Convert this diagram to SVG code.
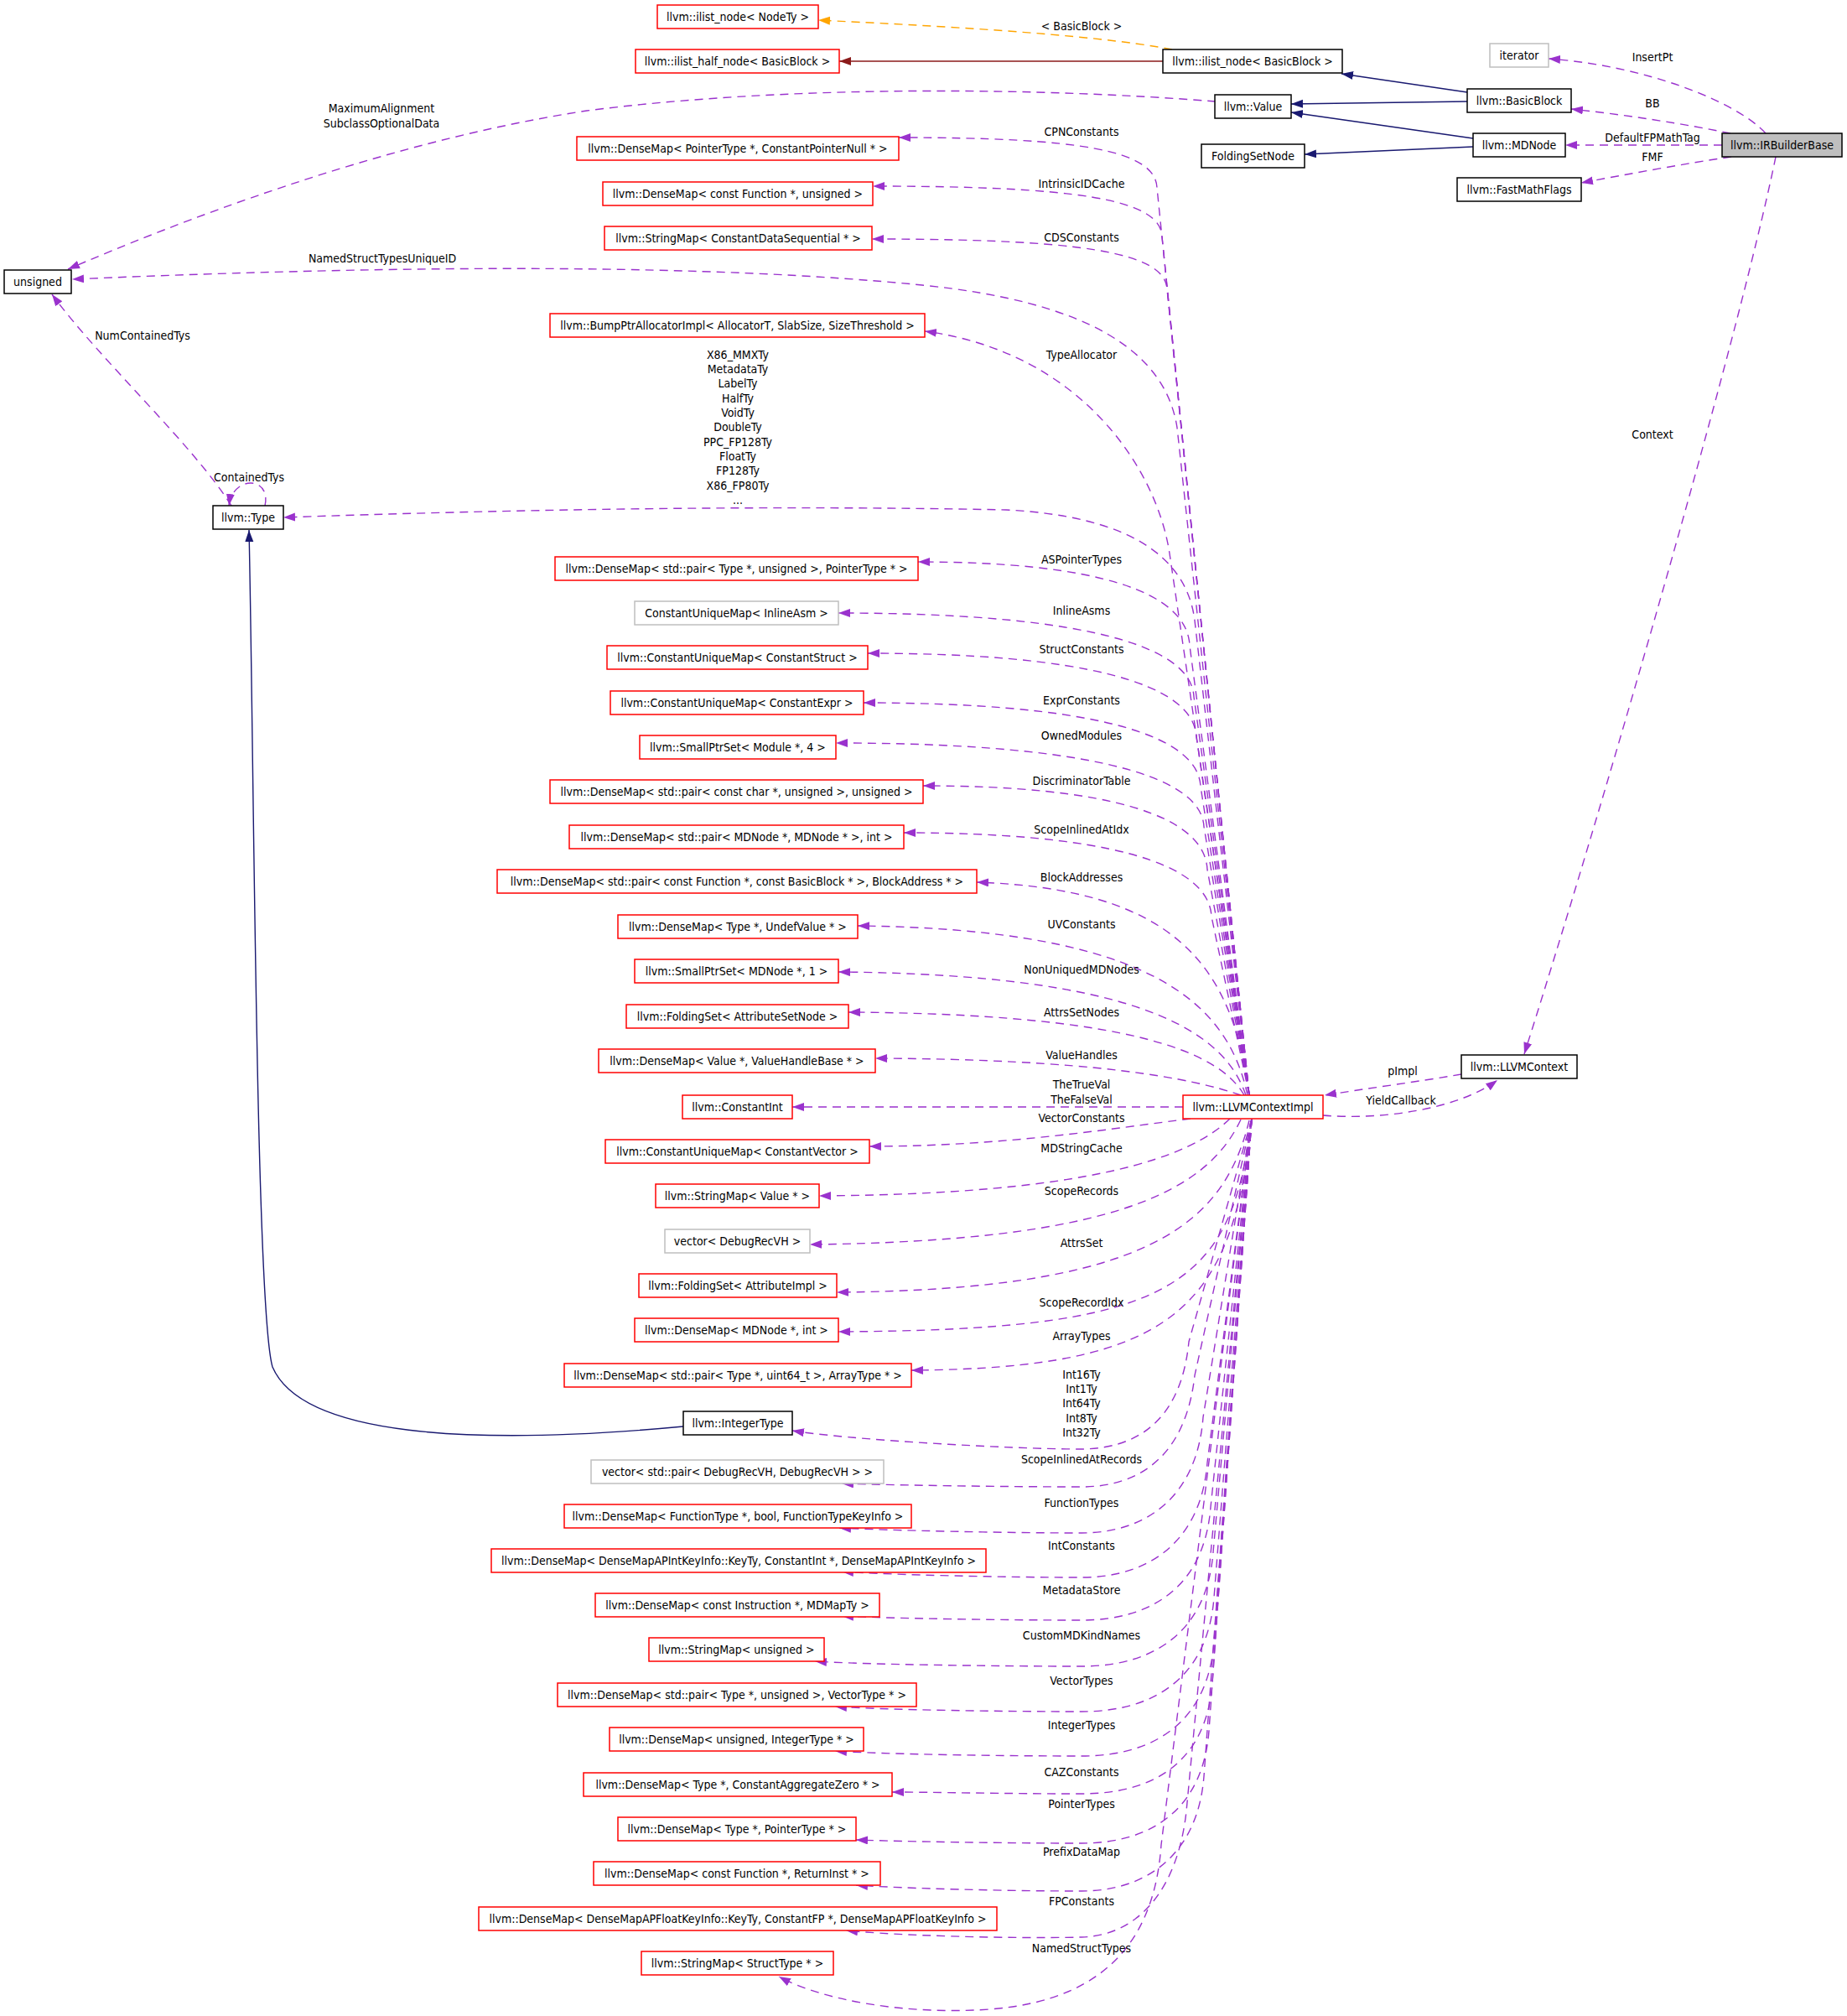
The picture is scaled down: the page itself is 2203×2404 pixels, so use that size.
<svg xmlns="http://www.w3.org/2000/svg" width="2203" height="2404" viewBox="0 0 2203 2404">
<defs>
<style>
text{font-family:'DejaVu Sans Condensed','DejaVu Sans',sans-serif;font-stretch:condensed;font-size:14px;fill:#000}
.n text{text-anchor:middle}
.n rect{fill:#fff;stroke-width:1.5}
.r rect{stroke:#ff0000}
.k rect{stroke:#000}
.g rect{stroke:#bfbfbf}
.lbl text{text-anchor:middle}
.e{fill:none;stroke:#9a32cd;stroke-width:1.4;stroke-dasharray:10,7;marker-end:url(#ap)}
.s{fill:none;stroke:#191970;stroke-width:1.4;marker-end:url(#an)}
</style>
<marker id="ap" markerUnits="userSpaceOnUse" markerWidth="15" markerHeight="11" refX="14" refY="5" orient="auto"><path d="M0,0 L14,5 L0,10 z" fill="#9a32cd"/></marker>
<marker id="an" markerUnits="userSpaceOnUse" markerWidth="15" markerHeight="11" refX="14" refY="5" orient="auto"><path d="M0,0 L14,5 L0,10 z" fill="#191970"/></marker>
<marker id="ar" markerUnits="userSpaceOnUse" markerWidth="15" markerHeight="11" refX="14" refY="5" orient="auto"><path d="M0,0 L14,5 L0,10 z" fill="#8b1a1a"/></marker>
<marker id="ao" markerUnits="userSpaceOnUse" markerWidth="15" markerHeight="11" refX="14" refY="5" orient="auto"><path d="M0,0 L14,5 L0,10 z" fill="#ffa500"/></marker>
</defs>
<rect width="2203" height="2404" fill="#fff"/>
<g id="connectors">
<path d="M1398,59 C1300,40 1100,30 976,24" fill="none" stroke="#ffa500" stroke-width="1.4" stroke-dasharray="10,7" marker-end="url(#ao)"/>
<path d="M1387,73 L1001,73" fill="none" stroke="#8b1a1a" stroke-width="1.4" marker-end="url(#ar)"/>
<path class="s" d="M1750,110 L1600,88"/>
<path class="s" d="M1750,121 L1540,124"/>
<path class="s" d="M1757,165 L1540,134"/>
<path class="s" d="M1757,175 L1556,184"/>
<path class="s" d="M815,1701 C560,1725 360,1712 325,1630 C305,1560 303,900 297,632"/>
<path class="e" d="M2106,159 C2070,120 1960,78 1847,70"/>
<path class="e" d="M2064,159 C2010,148 1940,137 1874,130"/>
<path class="e" d="M2054,173 L1867,173"/>
<path class="e" d="M2065,187 C2010,195 1940,208 1886,218"/>
<path class="e" d="M2118,187 C2070,420 1900,1000 1818,1257"/>
<path class="e" d="M1450,121 C1250,105 950,100 700,132 C450,170 200,270 81,321"/>
<path class="e" d="M276,603 C230,530 120,430 62,351"/>
<path class="e" d="M316,603 C324,568 278,566 273,603"/>
<path class="e" d="M1743,1281 C1690,1290 1630,1298 1580,1306"/>
<path class="e" d="M1578,1330 C1650,1336 1740,1322 1786,1288"/>
<path class="e" d="M1490,1306 L1404,510 C1390,420 1300,360 1100,340 C850,315 500,315 86,333"/>
<path class="e" d="M1490,1306 L1425,740 C1415,660 1340,615 1200,608 C900,602 600,608 338,617"/>
<path class="e" d="M1490,1306 L1380,224 C1378,179 1288,164 1072,164"/>
<path class="e" d="M1490,1306 L1386,282 C1384,237 1282,222 1041,222"/>
<path class="e" d="M1490,1306 L1392,345 C1390,300 1286,285 1040,285"/>
<path class="e" d="M1490,1306 L1395,660 C1380,560 1290,420 1103,395"/>
<path class="e" d="M1490,1306 L1419,770 C1416,705 1306,670 1095,670"/>
<path class="e" d="M1490,1306 L1424,831 C1421,766 1276,731 1000,731"/>
<path class="e" d="M1490,1306 L1427,879 C1424,814 1290,779 1035,779"/>
<path class="e" d="M1490,1306 L1432,938 C1429,873 1292,838 1030,838"/>
<path class="e" d="M1490,1306 L1436,986 C1433,921 1282,886 997,886"/>
<path class="e" d="M1490,1306 L1440,1037 C1437,972 1321,937 1101,937"/>
<path class="e" d="M1490,1306 L1445,1093 C1442,1028 1316,993 1078,993"/>
<path class="e" d="M1490,1306 C1470,1150 1400,1060 1165,1052"/>
<path class="e" d="M1488,1306 C1465,1200 1380,1108 1023,1104"/>
<path class="e" d="M1486,1306 C1460,1230 1360,1162 1000,1159"/>
<path class="e" d="M1484,1306 C1455,1255 1350,1209 1012,1207"/>
<path class="e" d="M1480,1306 C1420,1285 1300,1263 1044,1262"/>
<path class="e" d="M1411,1320 L945,1320"/>
<path class="e" d="M1420,1334 C1330,1345 1200,1367 1037,1367"/>
<path class="e" d="M1467,1334 C1420,1380 1300,1424 977,1426"/>
<path class="e" d="M1480,1335 C1440,1420 1330,1480 966,1484"/>
<path class="e" d="M1490,1336 C1460,1460 1370,1538 998,1541"/>
<path class="e" d="M1492,1336 C1470,1540 1390,1586 1000,1588"/>
<path class="e" d="M1493,1336 C1470,1560 1400,1632 1087,1634"/>
<path class="e" d="M1493,1334 L1418,1600 C1410,1680 1370,1727 1290,1728 C1200,1728 1005,1716 945,1706"/>
<path class="e" d="M1493,1334 L1425,1640 C1415,1730 1365,1773 1290,1773 C1200,1773 1064,1771 1004,1769"/>
<path class="e" d="M1493,1334 L1435,1690 C1428,1782 1370,1828 1290,1828 C1200,1828 1061,1825 1001,1822"/>
<path class="e" d="M1493,1334 L1440,1744 C1433,1834 1375,1881 1290,1881 C1200,1881 1064,1878 1004,1874"/>
<path class="e" d="M1493,1334 L1444,1797 C1437,1887 1379,1932 1290,1932 C1200,1932 1064,1930 1004,1927"/>
<path class="e" d="M1493,1334 L1447,1851 C1440,1941 1382,1987 1290,1987 C1200,1987 1032,1985 972,1981"/>
<path class="e" d="M1493,1334 L1448,1905 C1441,1995 1383,2041 1290,2041 C1200,2041 1056,2039 996,2035"/>
<path class="e" d="M1493,1334 L1448,1958 C1441,2048 1383,2094 1290,2094 C1200,2094 1056,2092 996,2088"/>
<path class="e" d="M1493,1334 L1446,2007 C1439,2097 1381,2139 1290,2139 C1200,2139 1110,2137 1064,2137"/>
<path class="e" d="M1493,1334 L1442,2064 C1435,2154 1377,2198 1290,2198 C1200,2198 1081,2196 1021,2194"/>
<path class="e" d="M1493,1334 L1436,2118 C1429,2208 1371,2255 1290,2255 C1200,2255 1081,2252 1021,2248"/>
<path class="e" d="M1493,1334 L1415,2160 C1405,2250 1360,2308 1290,2310 C1200,2312 1069,2308 1009,2302"/>
<path class="e" d="M1493,1334 L1385,2200 C1378,2300 1330,2385 1180,2396 C1080,2403 980,2385 929,2357"/>
</g>
<g id="labels" class="lbl">
<text x="1290" y="36">&lt; BasicBlock &gt;</text>
<text x="1971" y="73">InsertPt</text>
<text x="1971" y="128">BB</text>
<text x="1971" y="169">DefaultFPMathTag</text>
<text x="1971" y="192">FMF</text>
<text x="1971" y="523">Context</text>
<text x="455" y="134">MaximumAlignment</text>
<text x="455" y="152">SubclassOptionalData</text>
<text x="456" y="313">NamedStructTypesUniqueID</text>
<text x="170" y="405">NumContainedTys</text>
<text x="297" y="574">ContainedTys</text>
<text x="1290" y="162">CPNConstants</text>
<text x="1290" y="224">IntrinsicIDCache</text>
<text x="1290" y="288">CDSConstants</text>
<text x="1290" y="428">TypeAllocator</text>
<text x="880" y="428">X86_MMXTy</text>
<text x="880" y="445">MetadataTy</text>
<text x="880" y="462">LabelTy</text>
<text x="880" y="480">HalfTy</text>
<text x="880" y="497">VoidTy</text>
<text x="880" y="514">DoubleTy</text>
<text x="880" y="532">PPC_FP128Ty</text>
<text x="880" y="549">FloatTy</text>
<text x="880" y="566">FP128Ty</text>
<text x="880" y="584">X86_FP80Ty</text>
<text x="880" y="601">...</text>
<text x="1290" y="672">ASPointerTypes</text>
<text x="1290" y="733">InlineAsms</text>
<text x="1290" y="779">StructConstants</text>
<text x="1290" y="840">ExprConstants</text>
<text x="1290" y="882">OwnedModules</text>
<text x="1290" y="936">DiscriminatorTable</text>
<text x="1290" y="994">ScopeInlinedAtIdx</text>
<text x="1290" y="1051">BlockAddresses</text>
<text x="1290" y="1107">UVConstants</text>
<text x="1290" y="1161">NonUniquedMDNodes</text>
<text x="1290" y="1212">AttrsSetNodes</text>
<text x="1290" y="1263">ValueHandles</text>
<text x="1290" y="1298">TheTrueVal</text>
<text x="1290" y="1316">TheFalseVal</text>
<text x="1290" y="1338">VectorConstants</text>
<text x="1290" y="1374">MDStringCache</text>
<text x="1290" y="1425">ScopeRecords</text>
<text x="1290" y="1487">AttrsSet</text>
<text x="1290" y="1558">ScopeRecordIdx</text>
<text x="1290" y="1598">ArrayTypes</text>
<text x="1290" y="1644">Int16Ty</text>
<text x="1290" y="1661">Int1Ty</text>
<text x="1290" y="1678">Int64Ty</text>
<text x="1290" y="1696">Int8Ty</text>
<text x="1290" y="1713">Int32Ty</text>
<text x="1290" y="1745">ScopeInlinedAtRecords</text>
<text x="1290" y="1797">FunctionTypes</text>
<text x="1290" y="1848">IntConstants</text>
<text x="1290" y="1901">MetadataStore</text>
<text x="1290" y="1955">CustomMDKindNames</text>
<text x="1290" y="2009">VectorTypes</text>
<text x="1290" y="2062">IntegerTypes</text>
<text x="1290" y="2118">CAZConstants</text>
<text x="1290" y="2156">PointerTypes</text>
<text x="1290" y="2213">PrefixDataMap</text>
<text x="1290" y="2272">FPConstants</text>
<text x="1290" y="2328">NamedStructTypes</text>
<text x="1673" y="1282">pImpl</text>
<text x="1671" y="1317">YieldCallback</text>
</g>
<g id="nodes">
<g id="ilist_node_NodeTy" class="n r"><rect x="784" y="6" width="192" height="28"/><text x="880" y="25">llvm::ilist_node&lt; NodeTy &gt;</text></g>
<g id="ilist_half_node_BasicBlock" class="n r"><rect x="758" y="59" width="243" height="28"/><text x="879.5" y="78">llvm::ilist_half_node&lt; BasicBlock &gt;</text></g>
<g id="ilist_node_BasicBlock" class="n k"><rect x="1387" y="59" width="214" height="28"/><text x="1494" y="78">llvm::ilist_node&lt; BasicBlock &gt;</text></g>
<g id="Value" class="n k"><rect x="1449" y="113" width="91" height="28"/><text x="1494.5" y="132">llvm::Value</text></g>
<g id="FoldingSetNode" class="n k"><rect x="1433" y="172" width="123" height="28"/><text x="1494.5" y="191">FoldingSetNode</text></g>
<g id="iterator" class="n g"><rect x="1777" y="52" width="70" height="28"/><text x="1812" y="71">iterator</text></g>
<g id="BasicBlock" class="n k"><rect x="1750" y="106" width="124" height="28"/><text x="1812" y="125">llvm::BasicBlock</text></g>
<g id="MDNode" class="n k"><rect x="1757" y="159" width="110" height="28"/><text x="1812" y="178">llvm::MDNode</text></g>
<g id="FastMathFlags" class="n k"><rect x="1738" y="212" width="148" height="28"/><text x="1812" y="231">llvm::FastMathFlags</text></g>
<g id="IRBuilderBase" class="n k"><rect x="2054" y="159" width="143" height="28" style="fill:#bfbfbf"/><text x="2125.5" y="178">llvm::IRBuilderBase</text></g>
<g id="unsigned" class="n k"><rect x="5" y="322" width="80" height="28"/><text x="45" y="341">unsigned</text></g>
<g id="Type" class="n k"><rect x="254" y="603" width="84" height="28"/><text x="296" y="622">llvm::Type</text></g>
<g id="LLVMContextImpl" class="n r"><rect x="1411" y="1306" width="167" height="28"/><text x="1494.5" y="1325">llvm::LLVMContextImpl</text></g>
<g id="LLVMContext" class="n k"><rect x="1743" y="1258" width="138" height="28"/><text x="1812" y="1277">llvm::LLVMContext</text></g>
<g id="CPNConstantsMap" class="n r"><rect x="688" y="163" width="384" height="28"/><text x="880" y="182">llvm::DenseMap&lt; PointerType *, ConstantPointerNull * &gt;</text></g>
<g id="IntrinsicIDCacheMap" class="n r"><rect x="719" y="217" width="322" height="28"/><text x="880" y="236">llvm::DenseMap&lt; const Function *, unsigned &gt;</text></g>
<g id="CDSConstantsMap" class="n r"><rect x="721" y="270" width="319" height="28"/><text x="880.5" y="289">llvm::StringMap&lt; ConstantDataSequential * &gt;</text></g>
<g id="BumpPtrAllocatorImpl" class="n r"><rect x="656" y="374" width="447" height="28"/><text x="879.5" y="393">llvm::BumpPtrAllocatorImpl&lt; AllocatorT, SlabSize, SizeThreshold &gt;</text></g>
<g id="ASPointerTypesMap" class="n r"><rect x="662" y="664" width="433" height="28"/><text x="878.5" y="683">llvm::DenseMap&lt; std::pair&lt; Type *, unsigned &gt;, PointerType * &gt;</text></g>
<g id="InlineAsmMap" class="n g"><rect x="757" y="717" width="243" height="28"/><text x="878.5" y="736">ConstantUniqueMap&lt; InlineAsm &gt;</text></g>
<g id="ConstantStructMap" class="n r"><rect x="724" y="770" width="311" height="28"/><text x="879.5" y="789">llvm::ConstantUniqueMap&lt; ConstantStruct &gt;</text></g>
<g id="ConstantExprMap" class="n r"><rect x="728" y="824" width="302" height="28"/><text x="879" y="843">llvm::ConstantUniqueMap&lt; ConstantExpr &gt;</text></g>
<g id="OwnedModulesSet" class="n r"><rect x="763" y="877" width="234" height="28"/><text x="880" y="896">llvm::SmallPtrSet&lt; Module *, 4 &gt;</text></g>
<g id="DiscriminatorTableMap" class="n r"><rect x="656" y="930" width="445" height="28"/><text x="878.5" y="949">llvm::DenseMap&lt; std::pair&lt; const char *, unsigned &gt;, unsigned &gt;</text></g>
<g id="ScopeInlinedAtIdxMap" class="n r"><rect x="679" y="984" width="399" height="28"/><text x="878.5" y="1003">llvm::DenseMap&lt; std::pair&lt; MDNode *, MDNode * &gt;, int &gt;</text></g>
<g id="BlockAddressesMap" class="n r"><rect x="593" y="1037" width="572" height="28"/><text x="879" y="1056">llvm::DenseMap&lt; std::pair&lt; const Function *, const BasicBlock * &gt;, BlockAddress * &gt;</text></g>
<g id="UVConstantsMap" class="n r"><rect x="737" y="1091" width="286" height="28"/><text x="880" y="1110">llvm::DenseMap&lt; Type *, UndefValue * &gt;</text></g>
<g id="NonUniquedMDNodesSet" class="n r"><rect x="757" y="1144" width="243" height="28"/><text x="878.5" y="1163">llvm::SmallPtrSet&lt; MDNode *, 1 &gt;</text></g>
<g id="AttrsSetNodesSet" class="n r"><rect x="747" y="1198" width="265" height="28"/><text x="879.5" y="1217">llvm::FoldingSet&lt; AttributeSetNode &gt;</text></g>
<g id="ValueHandlesMap" class="n r"><rect x="714" y="1251" width="330" height="28"/><text x="879" y="1270">llvm::DenseMap&lt; Value *, ValueHandleBase * &gt;</text></g>
<g id="ConstantInt" class="n r"><rect x="814" y="1306" width="131" height="28"/><text x="879.5" y="1325">llvm::ConstantInt</text></g>
<g id="ConstantVectorMap" class="n r"><rect x="722" y="1359" width="315" height="28"/><text x="879.5" y="1378">llvm::ConstantUniqueMap&lt; ConstantVector &gt;</text></g>
<g id="MDStringCacheMap" class="n r"><rect x="782" y="1412" width="195" height="28"/><text x="879.5" y="1431">llvm::StringMap&lt; Value * &gt;</text></g>
<g id="ScopeRecordsVec" class="n g"><rect x="793" y="1466" width="173" height="28"/><text x="879.5" y="1485">vector&lt; DebugRecVH &gt;</text></g>
<g id="AttrsSetSet" class="n r"><rect x="762" y="1519" width="236" height="28"/><text x="880" y="1538">llvm::FoldingSet&lt; AttributeImpl &gt;</text></g>
<g id="ScopeRecordIdxMap" class="n r"><rect x="757" y="1572" width="243" height="28"/><text x="878.5" y="1591">llvm::DenseMap&lt; MDNode *, int &gt;</text></g>
<g id="ArrayTypesMap" class="n r"><rect x="673" y="1626" width="414" height="28"/><text x="880" y="1645">llvm::DenseMap&lt; std::pair&lt; Type *, uint64_t &gt;, ArrayType * &gt;</text></g>
<g id="IntegerType" class="n k"><rect x="815" y="1683" width="130" height="28"/><text x="880" y="1702">llvm::IntegerType</text></g>
<g id="ScopeInlinedAtRecordsVec" class="n g"><rect x="705" y="1741" width="349" height="28"/><text x="879.5" y="1760">vector&lt; std::pair&lt; DebugRecVH, DebugRecVH &gt; &gt;</text></g>
<g id="FunctionTypesMap" class="n r"><rect x="673" y="1794" width="414" height="28"/><text x="880" y="1813">llvm::DenseMap&lt; FunctionType *, bool, FunctionTypeKeyInfo &gt;</text></g>
<g id="IntConstantsMap" class="n r"><rect x="586" y="1847" width="590" height="28"/><text x="881" y="1866">llvm::DenseMap&lt; DenseMapAPIntKeyInfo::KeyTy, ConstantInt *, DenseMapAPIntKeyInfo &gt;</text></g>
<g id="MetadataStoreMap" class="n r"><rect x="710" y="1900" width="339" height="28"/><text x="879.5" y="1919">llvm::DenseMap&lt; const Instruction *, MDMapTy &gt;</text></g>
<g id="CustomMDKindNamesMap" class="n r"><rect x="774" y="1953" width="209" height="28"/><text x="878.5" y="1972">llvm::StringMap&lt; unsigned &gt;</text></g>
<g id="VectorTypesMap" class="n r"><rect x="665" y="2007" width="428" height="28"/><text x="879" y="2026">llvm::DenseMap&lt; std::pair&lt; Type *, unsigned &gt;, VectorType * &gt;</text></g>
<g id="IntegerTypesMap" class="n r"><rect x="727" y="2060" width="303" height="28"/><text x="878.5" y="2079">llvm::DenseMap&lt; unsigned, IntegerType * &gt;</text></g>
<g id="CAZConstantsMap" class="n r"><rect x="696" y="2114" width="368" height="28"/><text x="880" y="2133">llvm::DenseMap&lt; Type *, ConstantAggregateZero * &gt;</text></g>
<g id="PointerTypesMap" class="n r"><rect x="737" y="2167" width="284" height="28"/><text x="879" y="2186">llvm::DenseMap&lt; Type *, PointerType * &gt;</text></g>
<g id="PrefixDataMapMap" class="n r"><rect x="708" y="2220" width="342" height="28"/><text x="879" y="2239">llvm::DenseMap&lt; const Function *, ReturnInst * &gt;</text></g>
<g id="FPConstantsMap" class="n r"><rect x="571" y="2274" width="618" height="28"/><text x="880" y="2293">llvm::DenseMap&lt; DenseMapAPFloatKeyInfo::KeyTy, ConstantFP *, DenseMapAPFloatKeyInfo &gt;</text></g>
<g id="NamedStructTypesMap" class="n r"><rect x="765" y="2327" width="229" height="28"/><text x="879.5" y="2346">llvm::StringMap&lt; StructType * &gt;</text></g>
</g>
</svg>
